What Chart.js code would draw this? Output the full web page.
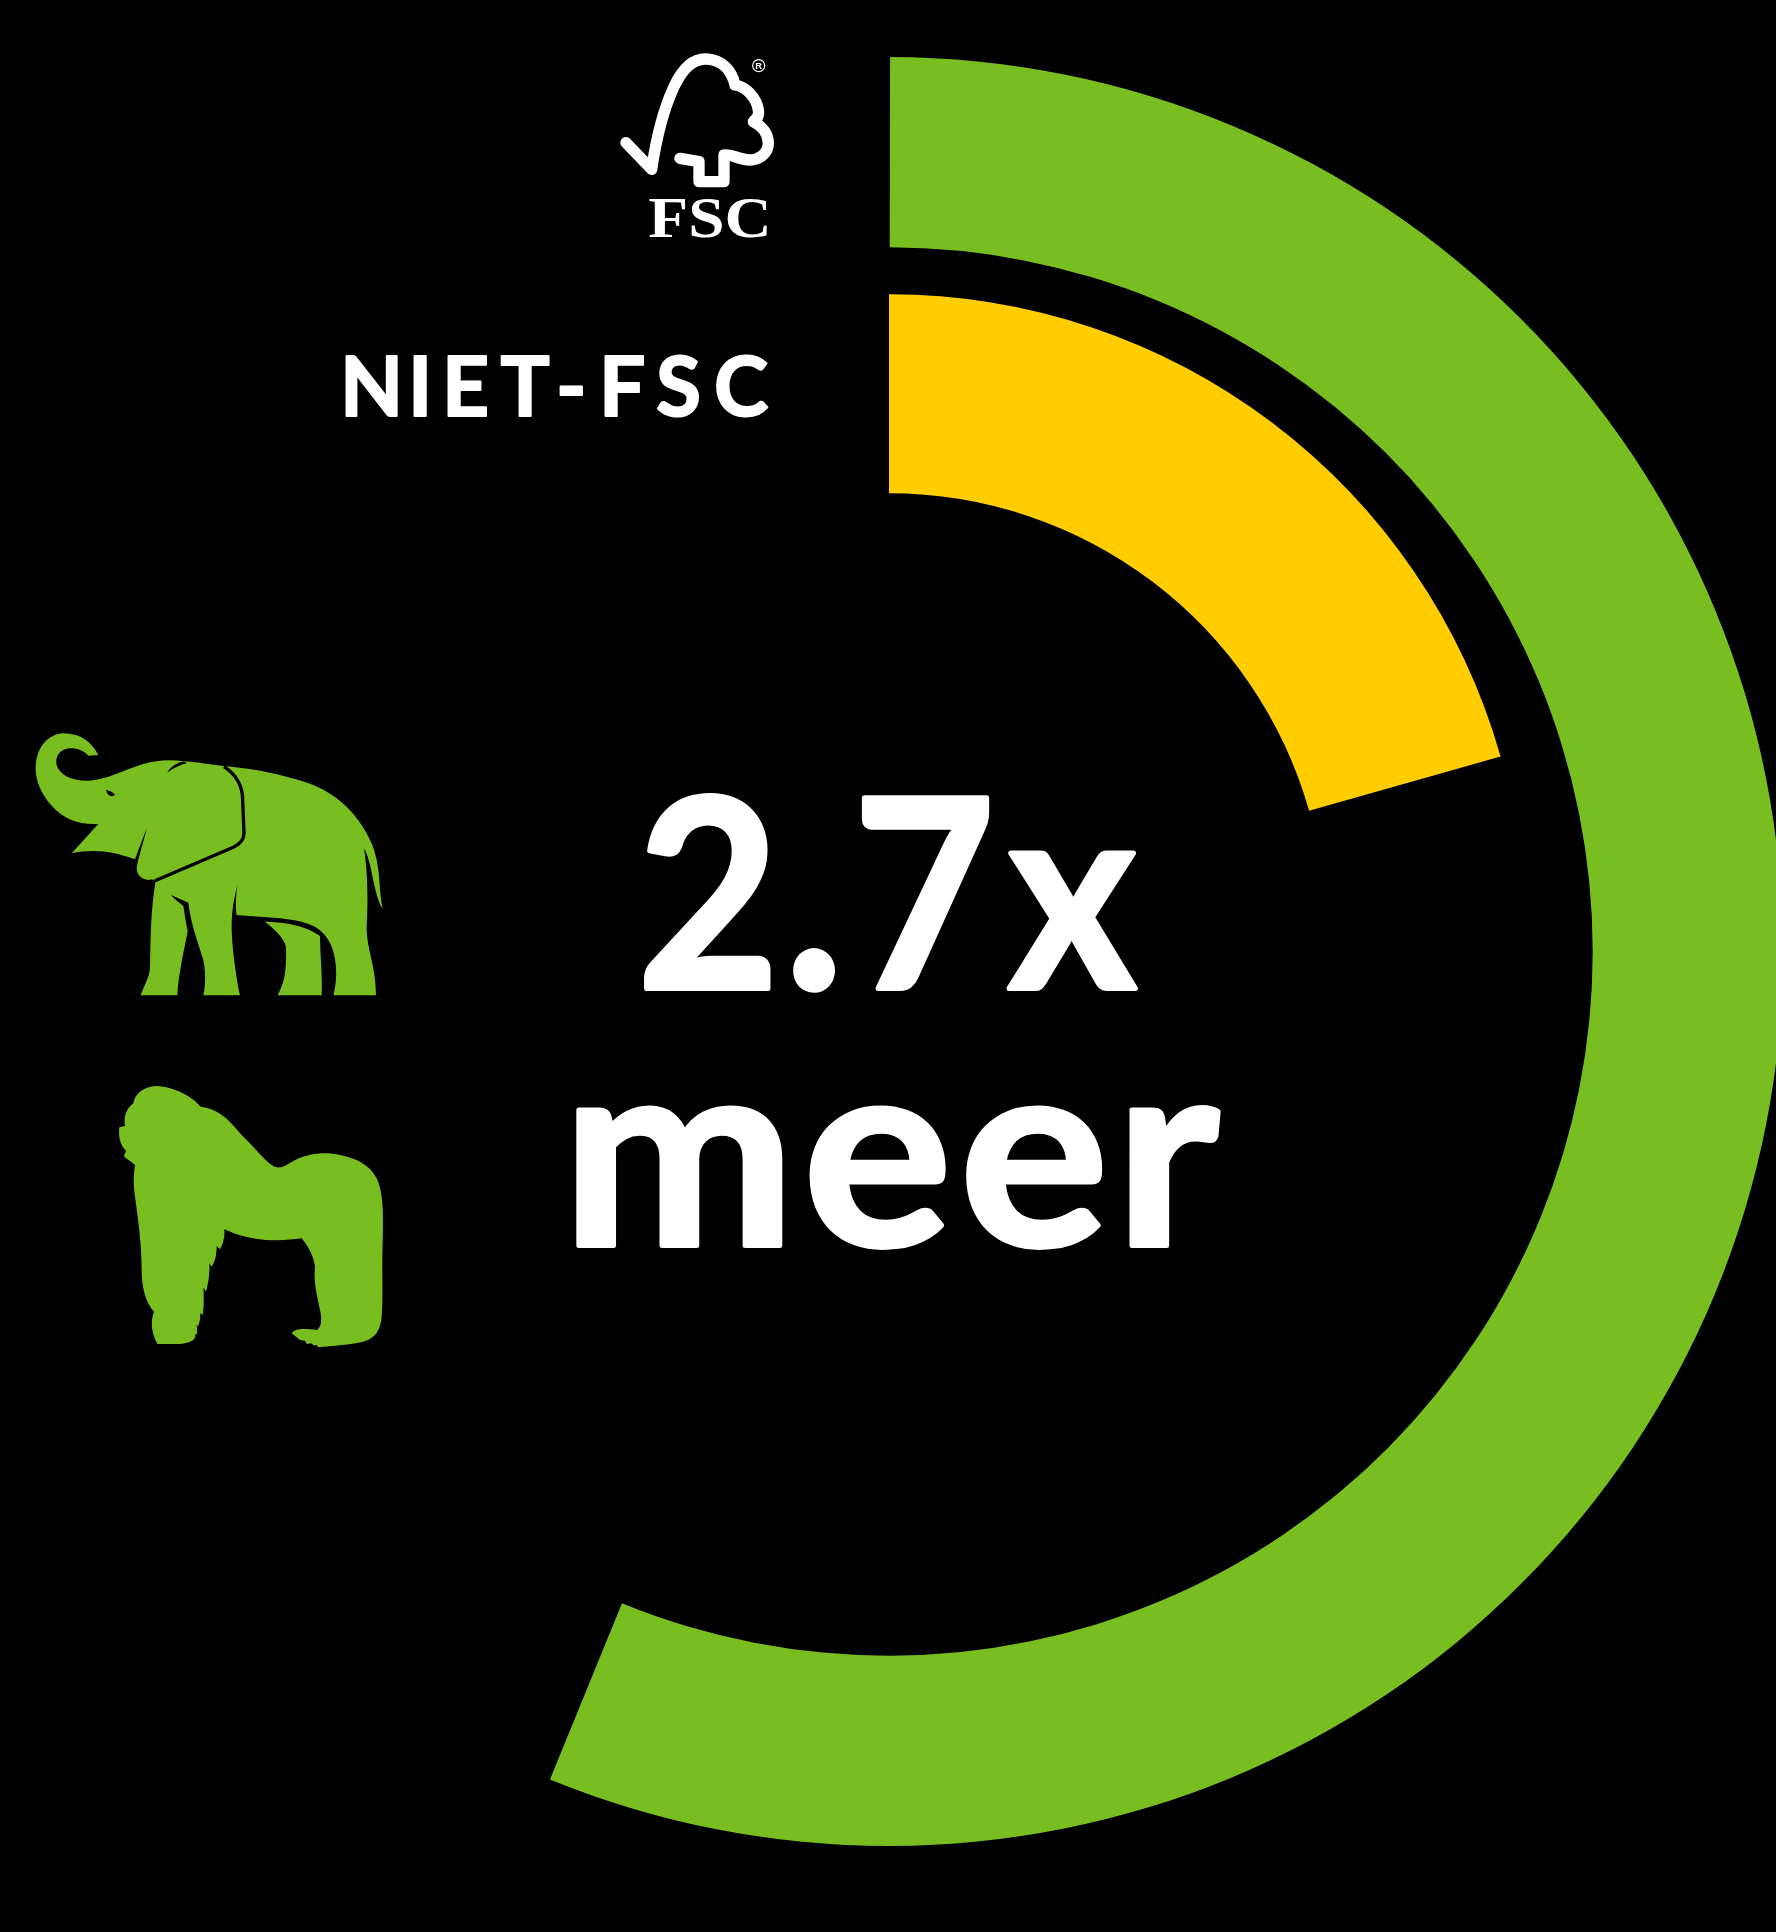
<!DOCTYPE html>
<html lang="nl"><head><meta charset="utf-8">
<script src="https://cdn.jsdelivr.net/npm/chart.js@4"></script>
<style>
html,body{margin:0;padding:0;background:#000;width:1776px;height:1932px;overflow:hidden}
canvas{position:absolute;display:block}
svg{position:absolute;overflow:visible}
.t{font-family:Lato,sans-serif;font-weight:700;fill:#fff;stroke:#fff;stroke-linejoin:round}
</style></head><body>
<canvas id="ringFsc" width="1801" height="1799" style="left:-12px;top:52px;width:1801px;height:1799px"></canvas>
<canvas id="ringNiet" width="1300" height="1300" style="left:239px;top:280px;width:1300px;height:1300px"></canvas>

<svg style="left:600px;top:40px" width="200" height="210" viewBox="0 0 600 630">
<path d="M78,308 L155,388 C165,320 185,220 222,140 C250,80 285,55 320,57 C365,60 395,90 405,135 C440,140 470,175 475,210 C478,230 470,235 460,245 C490,260 505,285 505,310 C505,345 470,360 450,360 C420,360 390,340 372,345 L372,425 L297,425 L297,365 L240,355" fill="none" stroke="#fff" stroke-width="34" stroke-linecap="round" stroke-linejoin="round"/>
<circle cx="476" cy="77" r="18" fill="none" stroke="#fff" stroke-width="3.5"/>
<text x="476" y="87" font-family="Liberation Sans" font-size="28" font-weight="700" fill="#fff" text-anchor="middle">R</text>
<text x="145" y="590" font-family="Liberation Serif" font-weight="700" font-size="168" fill="#fff" textLength="370" lengthAdjust="spacingAndGlyphs">FSC</text>
</svg>

<svg style="left:0;top:0" width="1776" height="1932" viewBox="0 0 1776 1932">
<text class="t" y="416" font-size="82" stroke-width="2" x="340 408 442 500.5 556 599 656 714">NIET-FSC</text>
<g transform="scale(.93,1)"><text class="t" y="988.5" font-size="264" stroke-width="5" x="685 844 917 1084">2.7x</text></g>
<g transform="scale(1.055,1)"><text class="t" y="1245.5" font-size="264" stroke-width="5" x="532.7 761.2 909.6 1057">meer</text></g>
</svg>

<svg style="left:20px;top:720px" width="380" height="290" viewBox="0 0 1140 870">
<path fill="#78BE20" d="M235,105 L205,107 C190,90 165,82 140,86 C115,92 105,115 110,135 C118,165 155,183 205,182 C260,180 310,150 370,132 C410,120 450,118 492,124 C530,126 575,134 610,138 C700,145 800,165 880,195 C960,228 1020,290 1055,370 C1070,410 1075,440 1078,480 C1080,520 1085,550 1088,568 C1070,540 1060,480 1050,435 C1045,415 1038,395 1032,385 C1042,450 1045,530 1040,620 C1038,680 1068,740 1068,826 L940,826 C955,770 950,700 925,660 C895,610 840,602 780,595 L650,585 C645,560 648,520 653,495 C640,540 635,580 635,620 C635,680 650,780 660,826 L550,826 C558,790 556,750 550,720 C535,670 512,610 505,548 L453,525 C465,540 480,550 490,558 C495,590 498,610 503,632 C495,680 475,760 472,826 L362,826 C372,795 390,770 390,740 C392,650 392,570 407,482 L395,478 C375,485 350,470 350,445 C355,410 370,370 380,325 L345,418 C285,395 220,385 155,400 L235,312 C215,312 190,312 170,305 C110,290 50,220 47,150 C45,90 80,42 130,40 C180,40 215,65 235,105 Z"/>
<path fill="#78BE20" d="M735,605 C780,606 850,612 900,648 C900,700 908,770 905,826 L773,826 C790,790 800,770 798,680 C790,650 760,625 735,605 Z"/>
<path fill="#000" d="M492,124 C470,128 452,140 442,158 C460,145 478,135 500,130 Z"/>
<path fill="#000" d="M258,210 C270,212 280,218 285,224 C278,232 262,230 258,210 Z"/>
<path fill="none" stroke="#000" stroke-width="10" d="M612,140 C650,165 668,200 668,240 L672,340 C672,365 655,375 640,382 L405,482"/>
</svg>
<svg style="left:100px;top:1070px" width="300" height="290" viewBox="0 0 900 870">
<path fill="#78BE20" d="M100,100 C105,70 130,50 170,48 C220,50 275,78 302,110 C350,115 385,145 420,190 L445,215 C470,240 505,285 530,292 C550,296 565,280 590,268 C625,250 680,245 720,255 C770,265 810,285 830,325 C850,370 850,420 848,520 C845,600 850,680 845,740 C840,790 820,805 790,815 C750,825 700,826 655,832 L650,825 L640,826 L635,820 L620,822 L615,812 L600,810 L575,790 C585,775 610,775 650,780 C665,770 665,750 662,730 C652,680 640,640 645,590 C640,555 625,530 605,505 C540,515 450,515 373,478 C375,500 370,520 360,538 L350,528 C350,555 345,575 335,590 L328,580 C330,610 325,640 318,665 L310,652 C312,680 312,710 308,735 L300,730 C302,745 298,760 294,770 L290,762 L292,790 L285,795 C290,810 265,820 240,822 L172,822 C155,790 150,755 162,725 C135,695 125,650 125,600 C125,530 115,450 105,380 C100,340 100,320 105,285 C95,275 75,265 72,258 L78,242 C60,225 55,200 58,172 L75,168 C70,140 80,115 100,100 Z"/>
</svg>
<script>
const categories = ['FSC', 'NIET-FSC'];
const shareValues = [56.15, 20.6];
const seriesColors = ['#78BE20', '#FFCD00'];
const ringCutouts = [704.2, 436.7];
const ringPadding = [5, 14.3];
const ringRotation = [0.1, 0];

function drawRing(id, i) {
  new Chart(document.getElementById(id), {
    type: 'doughnut',
    data: {
      labels: [categories[i], 'rest'],
      datasets: [{
        label: categories[i],
        data: [shareValues[i], 100 - shareValues[i]],
        backgroundColor: [seriesColors[i], 'rgba(0,0,0,0)'],
        borderWidth: 0
      }]
    },
    options: {
      responsive: false,
      animation: false,
      rotation: ringRotation[i],
      cutout: ringCutouts[i],
      layout: { padding: ringPadding[i] },
      plugins: { legend: { display: false }, tooltip: { enabled: false } }
    }
  });
}
drawRing('ringFsc', 0);
drawRing('ringNiet', 1);
</script>
</body></html>
